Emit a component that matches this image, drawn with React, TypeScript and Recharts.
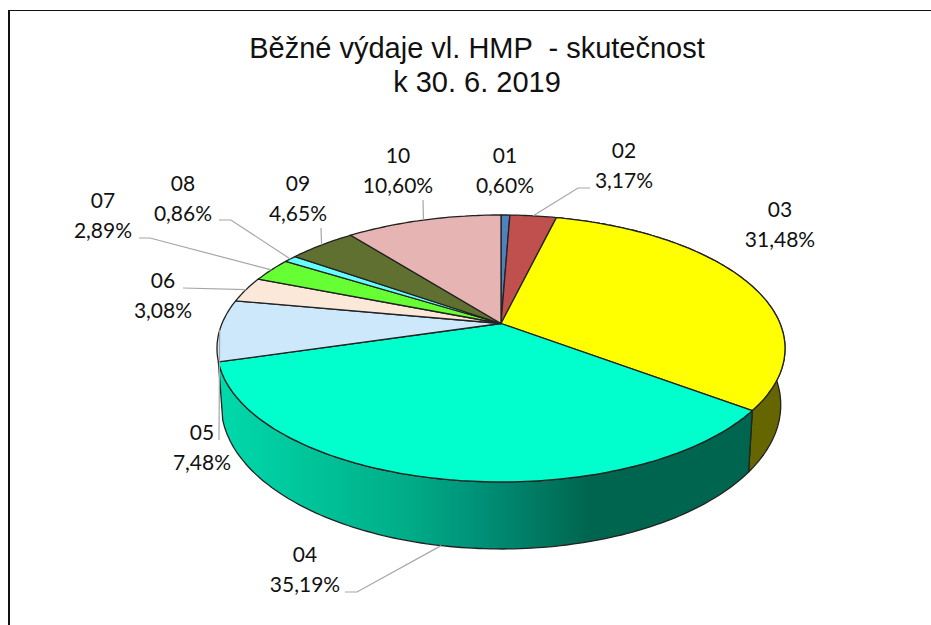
import { Cell, Pie, PieChart } from "recharts";

const CODES = ["01", "02", "03", "04", "05", "06", "07", "08", "09", "10"];
const SHARES = [0.6, 3.17, 31.48, 35.19, 7.48, 3.08, 2.89, 0.86, 4.65, 10.6];
const TITLE_LINES = ["Běžné výdaje vl. HMP  - skutečnost", "k 30. 6. 2019"];

const TOP_COLORS = [
  "#4F81BD",
  "#C0504D",
  "#FFFF00",
  "#00FFCC",
  "#CCE8FA",
  "#FBE8D9",
  "#66FF33",
  "#66FFFF",
  "#5F7030",
  "#E6B4B3",
];
const WALL_COLORS = ["none", "none", "#666600", "url(#wall04)", "none", "none", "none", "none", "none", "none"];

// label centre x, first line y, then the leader's start and elbow (no leader = empty)
const LABEL_SPOTS: { x: number; y: number; leader: number[][]; onWall?: boolean }[] = [
  { x: 505, y: 156, leader: [] },
  { x: 624, y: 151, leader: [[590, 188], [578, 188]] },
  { x: 780, y: 210, leader: [] },
  { x: 305, y: 555, leader: [[345, 592], [357, 592]], onWall: true },
  { x: 202, y: 433, leader: [[219, 440]] },
  { x: 163, y: 281, leader: [[183, 288]] },
  { x: 103, y: 201, leader: [[139, 238], [150, 238]] },
  { x: 183, y: 184, leader: [[219, 220], [231, 220]] },
  { x: 298, y: 184, leader: [[321, 228]] },
  { x: 398, y: 156, leader: [[423, 200]] },
];

const rows = CODES.map((name, i) => ({ name, value: SHARES[i] }));

const CX = 501;
const CY = 323.5;
const RADIUS = 279;
const TILT = 0.187;
const FLATTEN = 0.2448;
const DEPTH = 54.5;
const BOTTOM_SCALE = 0.985;

// tilted disc: recharts angle (deg) -> point on the rim
function rim(angle: number, bottom = false) {
  const t = ((90 - angle) * Math.PI) / 180;
  const u = Math.sin(t);
  const v = Math.cos(t);
  const w = 1 + TILT * v;
  const x = CX + (RADIUS * u * (bottom ? BOTTOM_SCALE : 1)) / w;
  const y = (CY - FLATTEN * RADIUS * v) / w + (bottom ? DEPTH / w : 0);
  return [x, y];
}

function arc(start: number, end: number, bottom = false) {
  const steps = Math.max(2, Math.ceil(Math.abs(end - start)));
  const pts: number[][] = [];
  for (let i = 0; i <= steps; i++) {
    pts.push(rim(start + ((end - start) * i) / steps, bottom));
  }
  return pts;
}

const toPath = (pts: number[][]) =>
  "M" + pts.map((p) => `${p[0].toFixed(1)},${p[1].toFixed(1)}`).join("L") + "Z";

function TopFace(props: any) {
  const pts = [[CX, CY], ...arc(props.startAngle, props.endAngle)];
  return <path d={toPath(pts)} fill={props.fill} stroke="#222" strokeWidth={1.3} strokeLinejoin="round" />;
}

function WallFace(props: any) {
  if (props.fill === "none") return null;
  const pts = [...arc(props.startAngle, props.endAngle), ...arc(props.startAngle, props.endAngle, true).reverse()];
  return (
    <g>
      <defs>
        <linearGradient id="wall04" gradientUnits="userSpaceOnUse" x1="222" y1="0" x2="747" y2="0">
          <stop offset="0%" stopColor="#00D9AB" />
          <stop offset="35%" stopColor="#00AD88" />
          <stop offset="48%" stopColor="#00937A" />
          <stop offset="70%" stopColor="#00654E" />
          <stop offset="100%" stopColor="#00654E" />
        </linearGradient>
      </defs>
      <path d={toPath(pts)} fill={props.fill} stroke="#222" strokeWidth={1.3} strokeLinejoin="round" />
    </g>
  );
}

function SliceLabel(props: any) {
  const spot = LABEL_SPOTS[props.index];
  const end = rim(props.midAngle, spot.onWall);
  return (
    <g>
      {spot.leader.length > 0 && (
        <polyline
          points={[...spot.leader, end].map((p) => p.join(",")).join(" ")}
          fill="none"
          stroke="#A6A6A6"
          strokeWidth={1.2}
        />
      )}
      <text x={spot.x} textAnchor="middle" fontFamily="Lato" fontSize={21} fill="#111">
        <tspan x={spot.x} y={spot.y + 7}>
          {props.name}
        </tspan>
        <tspan x={spot.x} y={spot.y + 37}>
          {props.value.toFixed(2).replace(".", ",")}%
        </tspan>
      </text>
    </g>
  );
}

export default function App() {
  return (
    <div style={{ position: "fixed", left: 0, top: 0, width: 931, height: 625, background: "#fff", overflow: "hidden" }}>
      <div
        style={{
          position: "absolute",
          left: 8,
          top: 10,
          width: 923,
          height: 615,
          borderLeft: "2px solid #111",
          borderTop: "1.5px solid #111",
        }}
      />
      <div
        style={{
          position: "absolute",
          left: 0,
          top: 31,
          width: 954,
          textAlign: "center",
          fontFamily: "Liberation Sans",
          fontSize: 29,
          lineHeight: "34px",
          color: "#111",
          whiteSpace: "pre",
        }}
      >
        {TITLE_LINES.map((line) => (
          <div key={line}>{line}</div>
        ))}
      </div>
      <div style={{ position: "absolute", left: 0, top: 0 }}>
        <PieChart width={931} height={625} margin={{ top: 0, right: 0, bottom: 0, left: 0 }}>
          <Pie
            data={rows}
            dataKey="value"
            nameKey="name"
            cx={CX}
            cy={CY}
            outerRadius={RADIUS}
            startAngle={90}
            endAngle={-270}
            shape={WallFace}
            inactiveShape={WallFace}
            stroke="none"
            isAnimationActive={false}
          >
            {rows.map((_, i) => (
              <Cell key={i} fill={WALL_COLORS[i]} />
            ))}
          </Pie>
          <Pie
            data={rows}
            dataKey="value"
            nameKey="name"
            cx={CX}
            cy={CY}
            outerRadius={RADIUS}
            startAngle={90}
            endAngle={-270}
            shape={TopFace}
            inactiveShape={TopFace}
            label={SliceLabel}
            labelLine={false}
            isAnimationActive={false}
          >
            {rows.map((_, i) => (
              <Cell key={i} fill={TOP_COLORS[i]} />
            ))}
          </Pie>
        </PieChart>
      </div>
    </div>
  );
}
